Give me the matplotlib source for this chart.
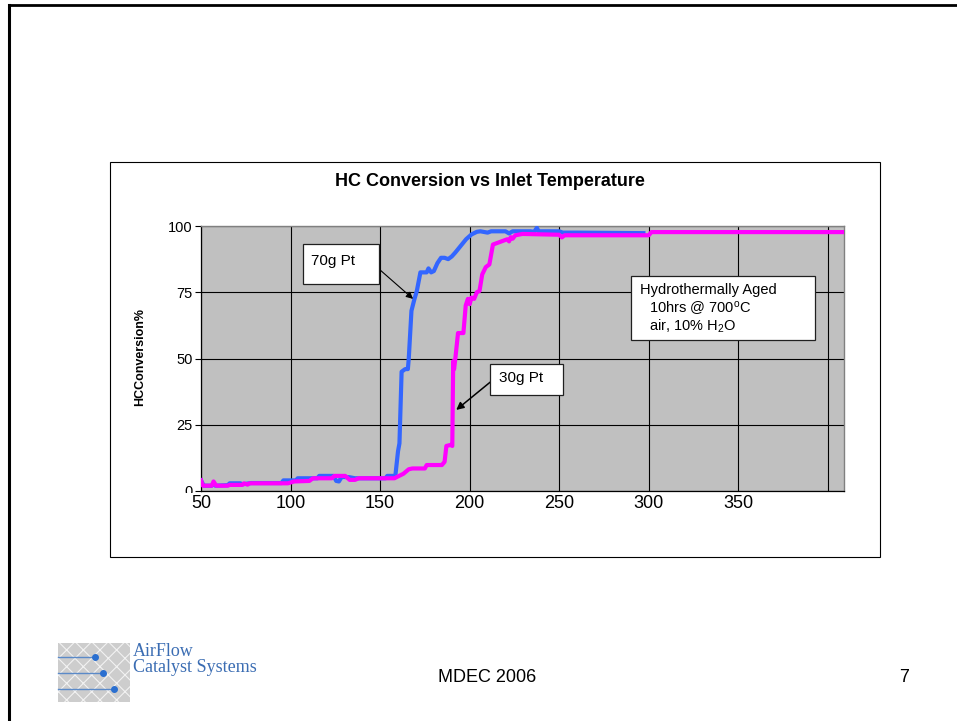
import matplotlib
matplotlib.use('Agg')
import matplotlib.pyplot as plt
from matplotlib.patches import Rectangle
from matplotlib.lines import Line2D
from matplotlib.transforms import Bbox, TransformedBbox

W, H = 957, 721
plt.rcParams['font.family'] = ['Liberation Sans', 'DejaVu Sans']
plt.rcParams['mathtext.fontset'] = 'custom'
plt.rcParams['mathtext.rm'] = 'Liberation Sans'
plt.rcParams['mathtext.it'] = 'Liberation Sans:italic'
plt.rcParams['mathtext.bf'] = 'Liberation Sans:bold'
plt.rcParams['hatch.linewidth'] = 0.8

# ---------------- data ----------------
title = "HC Conversion vs Inlet Temperature"
ylabel = "HCConversion%"
xticks = [50, 100, 150, 200, 250, 300, 350, 400]
xtick_labels = ['50', '100', '150', '200', '250', '300', '350', '']
yticks = [0, 25, 50, 75, 100]
ytick_labels = ['0', '25', '50', '75', '100']

temp_70g = [50, 51.5, 56, 57, 58, 65, 66, 72, 73, 78, 95, 96, 103, 104, 115, 116,
            124, 125.5, 127, 128.5, 133, 136, 153, 154, 158.5, 160, 160.8, 162, 164,
            165.5, 166, 167.5, 169, 170.5, 172.5, 176, 177, 178.5, 180, 182, 184, 186,
            188, 190, 192, 195, 198, 201, 204, 206, 210, 212, 220, 222, 224, 234, 236,
            237.5, 238.5, 250, 252, 260, 297]
conv_70g = [4.0, 2.0, 2.0, 3.0, 2.0, 2.2, 2.9, 2.9, 2.5, 3.0, 3.0, 4.0, 4.0, 4.8, 4.8, 5.7,
            5.7, 3.8, 3.6, 5.3, 5.2, 4.8, 4.8, 5.7, 5.7, 15.0, 18.0, 45.0, 46.0,
            46.0, 50.0, 68.0, 72.0, 75.5, 82.5, 82.5, 84.0, 82.5, 83.0, 86.0, 88.0, 88.0,
            87.5, 88.5, 90.0, 92.5, 95.0, 96.8, 97.8, 98.0, 97.5, 98.0, 98.0, 97.2, 98.0, 98.0, 97.8,
            99.3, 98.0, 98.0, 97.5, 97.5, 97.3]

temp_30g = [50, 51, 56, 57, 58.5, 65, 66, 73, 74, 76, 77, 98.5, 102, 110.5, 112.5, 123,
            124.5, 130.5, 133, 136, 138, 158, 160, 163, 166, 168, 175, 176, 184.5, 186,
            187, 189.5, 190.3, 190.8, 191.3, 192, 193.5, 196.5, 197.8, 199, 200, 201,
            202.5, 204, 205.5, 207, 209, 211, 213, 217, 219, 221, 222, 223, 224, 225.5,
            229.5, 250, 251.5, 253, 260, 300, 301.5, 409]
conv_30g = [4.0, 2.0, 2.0, 3.6, 2.0, 2.0, 2.3, 2.3, 2.9, 2.4, 2.9, 2.9, 3.6, 3.8, 4.8, 4.8,
            5.7, 5.7, 4.2, 4.2, 4.8, 4.8, 5.5, 6.5, 8.2, 8.5, 8.5, 9.8, 9.8, 11.0,
            17.0, 17.4, 17.0, 49.0, 46.0, 50.0, 59.6, 59.6, 70.0, 72.5, 70.5, 73.0,
            72.5, 75.0, 75.5, 81.7, 84.5, 85.5, 93.0, 94.0, 94.5, 95.0, 94.2, 95.8, 95.2, 96.5,
            97.0, 96.7, 95.7, 96.5, 96.5, 96.5, 97.7, 97.7]

blue = '#3366FF'
magenta = '#FF00FF'

# ---------------- figure ----------------
fig = plt.figure(figsize=(W / 100, H / 100), dpi=100)


def fx(px):
    return px / W


def fy(py):
    return 1 - py / H


# slide border
fig.add_artist(Line2D([fx(9), 1], [fy(5), fy(5)], color='black', lw=2,
                      transform=fig.transFigure))
fig.add_artist(Line2D([fx(9), fx(9)], [fy(5), 0], color='black', lw=2.2,
                      transform=fig.transFigure))

# chart frame
fig.add_artist(Rectangle((fx(110), fy(557)), fx(880) - fx(110), fy(162) - fy(557),
                         transform=fig.transFigure, fill=False, ec='black', lw=0.8))

ax = fig.add_axes([fx(201), fy(491), fx(844) - fx(201), fy(226) - fy(491)])
ax.set_facecolor('#C0C0C0')
ax.plot(temp_70g, conv_70g, color=blue, lw=3.0, solid_joinstyle='round', zorder=3)
ax.plot(temp_30g, conv_30g, color=magenta, lw=3.0, solid_joinstyle='round', zorder=4)
ax.set_xlim(50, 409)
ax.set_ylim(0, 100)
ax.set_xticks(xticks)
ax.set_xticklabels(xtick_labels, fontsize=13)
ax.set_yticks(yticks)
ax.set_yticklabels(ytick_labels, fontsize=10.5)
ax.tick_params(axis='x', length=0, pad=3)
ax.tick_params(axis='y', length=4, width=0.8, direction='out', pad=2)
ax.grid(True, color='black', lw=0.8)
ax.set_axisbelow(True)
for s in ['left', 'bottom']:
    ax.spines[s].set_color('black')
    ax.spines[s].set_linewidth(0.9)
for s in ['top', 'right']:
    ax.spines[s].set_color('#808080')
    ax.spines[s].set_linewidth(1.0)

# clip the "0" label like in the reference
clipbox = TransformedBbox(Bbox([[0, fy(493)], [1, 1]]), fig.transFigure)
lbl0 = ax.get_yticklabels()[0]
lbl0.set_clip_on(True)
lbl0.set_clip_box(clipbox)

fig.text(fx(490), fy(182), title, fontsize=13, fontweight='bold', ha='center', va='center')
fig.text(fx(140), fy(357), ylabel, rotation=90, fontsize=9, fontweight='bold',
         ha='center', va='center')


# annotation boxes
def box(x0, y0, x1, y1):
    fig.add_artist(Rectangle((fx(x0), fy(y1)), fx(x1) - fx(x0), fy(y0) - fy(y1),
                             transform=fig.transFigure, fc='white', ec='#202020',
                             lw=0.9, zorder=5))


box(303, 244, 379, 284)
fig.text(fx(311), fy(261), '70g Pt', fontsize=11, ha='left', va='center', zorder=6)
ax.annotate('', xy=(168.4, 72.5), xytext=(150, 83.4),
            arrowprops=dict(arrowstyle='-|>', color='black', lw=0.8,
                            mutation_scale=10, shrinkA=0, shrinkB=0), zorder=6)

box(490, 364, 563, 395)
fig.text(fx(499), fy(378), '30g Pt', fontsize=11, ha='left', va='center', zorder=6)
ax.annotate('', xy=(192.5, 30.6), xytext=(211.5, 41.1),
            arrowprops=dict(arrowstyle='-|>', color='black', lw=1.1,
                            mutation_scale=11, shrinkA=0, shrinkB=0), zorder=6)

box(631, 276, 815, 340)
fig.text(fx(640), fy(290), 'Hydrothermally Aged', fontsize=10.5, ha='left', va='center', zorder=6)
fig.text(fx(649), fy(308), r'10hrs @ 700$^{\mathrm{o}}$C', fontsize=10.5, ha='left',
         va='center', zorder=6)
fig.text(fx(649), fy(326), r'air, 10% H$_{\mathrm{2}}$O', fontsize=10.5, ha='left',
         va='center', zorder=6)

# footer: logo
fig.add_artist(Rectangle((fx(58), fy(702)), fx(130) - fx(58), fy(643) - fy(702),
                         transform=fig.transFigure, fc='#cdcdcd', ec='#f2f2f2', lw=0,
                         hatch='xx'))
for yy, xd in [(657, 95), (673, 103), (689, 114)]:
    fig.add_artist(Line2D([fx(58), fx(xd)], [fy(yy), fy(yy)], color='#5b8ac8', lw=1.0,
                          transform=fig.transFigure))
    fig.add_artist(Line2D([fx(xd)], [fy(yy)], marker='o', ms=4, color='#2a6fd0',
                          transform=fig.transFigure))
fig.text(fx(133), fy(652), 'AirFlow', family='Liberation Serif', fontsize=13,
         color='#3b6db3', ha='left', va='center')
fig.text(fx(133), fy(668), 'Catalyst Systems', family='Liberation Serif', fontsize=13,
         color='#3b6db3', ha='left', va='center')

fig.text(fx(487), fy(677), 'MDEC 2006', fontsize=13, ha='center', va='center')
fig.text(fx(904), fy(677), '7', fontsize=13, ha='center', va='center')

fig.savefig('out.png', dpi=100)
